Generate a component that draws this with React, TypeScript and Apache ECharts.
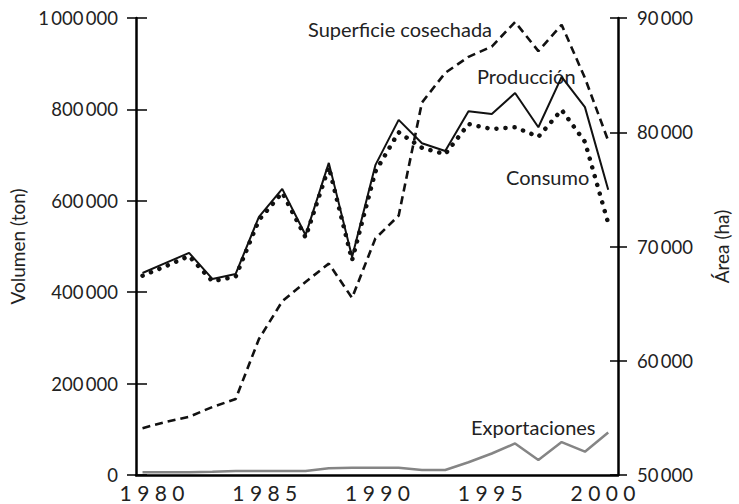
import React, { useEffect, useRef } from "react";
import * as echarts from "echarts";

const years = [1980, 1981, 1982, 1983, 1984, 1985, 1986, 1987, 1988, 1989, 1990, 1991, 1992, 1993, 1994, 1995, 1996, 1997, 1998, 1999, 2000];
const produccion = [442000, 464000, 486000, 429000, 440000, 565000, 626000, 525000, 683000, 477000, 678000, 777000, 726000, 709000, 796000, 790000, 836000, 761000, 871000, 805000, 624000];
const consumo = [436000, 457000, 479000, 424000, 434000, 558000, 618000, 520000, 674000, 470000, 664000, 750000, 716000, 702000, 768000, 757000, 761000, 740000, 799000, 729000, 551000];
const superficie = [54100, 54650, 55100, 55950, 56650, 61900, 65200, 66900, 68500, 65500, 70700, 72700, 82600, 85200, 86600, 87500, 89650, 87100, 89400, 84750, 79250];
const exportaciones = [6000, 6000, 6000, 7000, 9000, 9000, 9000, 9000, 15000, 16000, 16000, 16000, 11000, 11000, 28000, 47000, 69000, 33000, 72000, 51000, 93000];
const yearTicks = [1980, 1985, 1990, 1995, 2000];

const FONT = "Lato";
const TXT = "#222";

const fmt = (v: number) => {
  const s = String(Math.round(v));
  return s.replace(/\B(?=(\d{3})+(?!\d))/g, "\u2009");
};

const pairs = (vals: number[]) => years.map((y, i) => [y, vals[i]]);

export default function App() {
  const ref = useRef<HTMLDivElement>(null);
  useEffect(() => {
    if (!ref.current) return;
    const chart = echarts.init(ref.current, null, { renderer: "svg" });
    const option: any = {
      animation: false,
      backgroundColor: "#fff",
      textStyle: { fontFamily: FONT },
      grid: [
        { left: 136, right: 111, top: 18, bottom: 29 },
        { left: 152, right: 136, top: 18, bottom: 29 },
      ],
      xAxis: [
        {
          type: "value",
          gridIndex: 0,
          min: 1979.72,
          max: 2000.42,
          axisLine: { show: true, onZero: false, lineStyle: { color: "#000", width: 2.5 } },
          axisTick: { show: false },
          axisLabel: { show: false },
          splitLine: { show: false },
        },
        {
          type: "value",
          gridIndex: 1,
          min: 1980,
          max: 2000,
          interval: 5,
          axisLine: { show: false },
          axisTick: { show: false },
          splitLine: { show: false },
          axisLabel: {
            show: true,
            margin: 9,
            color: TXT,
            fontFamily: FONT,
            fontSize: 21,
            lineHeight: 16,
            formatter: (v: number) => (yearTicks.includes(v) ? String(v).split("").join(" ") : ""),
          },
        },
      ],
      yAxis: [
        {
          type: "value",
          gridIndex: 0,
          position: "left",
          min: 0,
          max: 1000000,
          interval: 200000,
          name: "Volumen (ton)",
          nameLocation: "middle",
          nameGap: 108,
          nameTextStyle: { color: TXT, fontFamily: FONT, fontSize: 19 },
          axisLine: { show: true, lineStyle: { color: "#000", width: 2.5 } },
          axisTick: { show: true, inside: false, length: 9, lineStyle: { color: "#000", width: 1.5 } },
          axisLabel: { color: TXT, fontFamily: FONT, fontSize: 18.5, margin: 18, lineHeight: 16, formatter: fmt },
          splitLine: { show: false },
        },
        {
          type: "value",
          gridIndex: 0,
          position: "right",
          min: 50000,
          max: 90000,
          interval: 10000,
          name: "Área (ha)",
          nameLocation: "middle",
          nameGap: 94,
          nameRotate: 90,
          nameTextStyle: { color: TXT, fontFamily: FONT, fontSize: 19 },
          axisLine: { show: true, lineStyle: { color: "#000", width: 2.5 } },
          axisTick: { show: true, inside: false, length: 9, lineStyle: { color: "#000", width: 1.5 } },
          axisLabel: { color: TXT, fontFamily: FONT, fontSize: 18.5, margin: 19, formatter: fmt },
          splitLine: { show: false },
        },
        {
          type: "value",
          gridIndex: 0,
          position: "left",
          min: 0,
          max: 1000000,
          interval: 200000,
          axisLine: { show: false },
          axisTick: { show: true, inside: true, length: 11, lineStyle: { color: "#000", width: 1.5 } },
          axisLabel: { show: false },
          splitLine: { show: false },
        },
        {
          type: "value",
          gridIndex: 0,
          position: "right",
          min: 50000,
          max: 90000,
          interval: 10000,
          axisLine: { show: false },
          axisTick: { show: true, inside: true, length: 8, lineStyle: { color: "#000", width: 1.5 } },
          axisLabel: { show: false },
          splitLine: { show: false },
        },
        { type: "value", gridIndex: 1, show: false, min: 0, max: 1 },
      ],
      series: [
        {
          name: "Exportaciones",
          type: "line",
          xAxisIndex: 0,
          yAxisIndex: 0,
          data: pairs(exportaciones),
          symbol: "none",
          lineStyle: { color: "#858585", width: 2.5 },
        },
        {
          name: "Superficie cosechada",
          type: "line",
          xAxisIndex: 0,
          yAxisIndex: 1,
          data: pairs(superficie),
          symbol: "none",
          lineStyle: { color: "#111", width: 2.6, type: [8, 5] },
        },
        {
          name: "Consumo",
          type: "line",
          xAxisIndex: 0,
          yAxisIndex: 0,
          data: pairs(consumo),
          symbol: "none",
          lineStyle: { color: "#111", width: 4.5, type: [0.1, 9], cap: "round" },
        },
        {
          name: "Producción",
          type: "line",
          xAxisIndex: 0,
          yAxisIndex: 0,
          data: pairs(produccion),
          symbol: "none",
          lineStyle: { color: "#111", width: 2 },
        },
      ],
      graphic: [
        { type: "text", x: 308, y: 29, style: { text: "Superficie cosechada", fill: TXT, font: `20px ${FONT}`, verticalAlign: "middle" } },
        { type: "text", x: 477, y: 76, style: { text: "Producción", fill: TXT, font: `20px ${FONT}`, verticalAlign: "middle" } },
        { type: "text", x: 506, y: 177, style: { text: "Consumo", fill: TXT, font: `20px ${FONT}`, verticalAlign: "middle" } },
        { type: "text", x: 471, y: 427, style: { text: "Exportaciones", fill: TXT, font: `20px ${FONT}`, verticalAlign: "middle" } },
      ],
    };
    chart.setOption(option);
    return () => chart.dispose();
  }, []);
  return <div ref={ref} style={{ width: 739, height: 504, position: "absolute", left: 0, top: 0 }} />;
}
